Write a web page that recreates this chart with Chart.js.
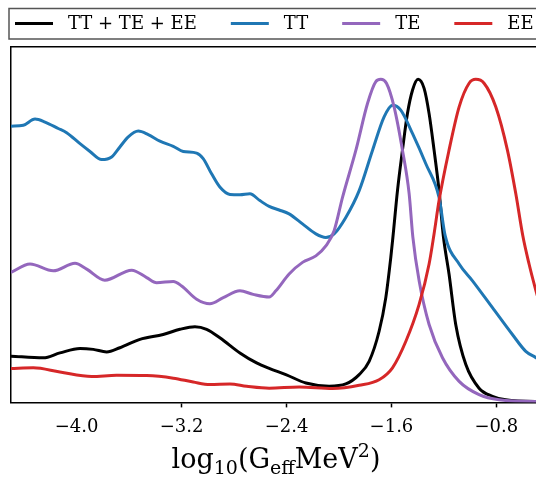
<!DOCTYPE html>
<html>
<head>
<meta charset="utf-8">
<script src="https://cdn.jsdelivr.net/npm/chart.js@4"></script>
<style>
  html, body { margin: 0; padding: 0; background: #fff; overflow: hidden; }
  #wrap { width: 536px; height: 477px; overflow: hidden; position: relative; }
  canvas { display: block; }
</style>
</head>
<body>
<div id="wrap"><canvas id="c" width="545" height="477"></canvas></div>
<script>
// ---- data (x = log10(Geff MeV^2), y = normalised posterior) ----
const seriesLabels = ['TT + TE + EE', 'TT', 'TE', 'EE'];
const seriesColors = ['#000000', '#1f77b4', '#9467bd', '#d62728'];
const tickValues = [-4.0, -3.2, -2.4, -1.6, -0.8];
const axisTitleParts = [['log', 0], ['10', 1], ['(G', 0], ['eff', 1], ['MeV', 0], ['2', 2], [')', 0]];

const allX = [-4.500, -4.254, -4.127, -3.974, -3.873, -3.771, -3.670, -3.517, -3.340, -3.212, -3.098, -3.009, -2.908, -2.755, -2.628, -2.532, -2.405, -2.252, -2.075, -1.948, -1.846, -1.770, -1.694, -1.643, -1.605, -1.590, -1.554, -1.516, -1.478, -1.439, -1.397, -1.351, -1.313, -1.275, -1.237, -1.205, -1.161, -1.110, -1.033, -0.932, -0.830, -0.729, -0.508, -0.46];
const allY = [0.143, 0.138, 0.153, 0.167, 0.164, 0.156, 0.169, 0.195, 0.210, 0.226, 0.234, 0.226, 0.200, 0.153, 0.122, 0.105, 0.086, 0.060, 0.050, 0.057, 0.086, 0.127, 0.220, 0.324, 0.448, 0.506, 0.655, 0.780, 0.893, 0.966, 0.999, 0.971, 0.893, 0.780, 0.655, 0.516, 0.397, 0.241, 0.117, 0.044, 0.019, 0.008, 0.003, 0.003];

const ttX = [-4.500, -4.406, -4.317, -4.241, -4.140, -4.076, -3.974, -3.898, -3.809, -3.733, -3.670, -3.606, -3.530, -3.454, -3.365, -3.263, -3.187, -3.085, -3.035, -2.971, -2.908, -2.831, -2.755, -2.679, -2.603, -2.532, -2.456, -2.380, -2.278, -2.176, -2.100, -2.037, -1.948, -1.846, -1.744, -1.656, -1.592, -1.529, -1.439, -1.338, -1.237, -1.190, -1.084, -0.982, -0.830, -0.678, -0.576, -0.505, -0.46];
const ttY = [0.854, 0.857, 0.876, 0.867, 0.847, 0.834, 0.800, 0.776, 0.751, 0.759, 0.790, 0.821, 0.839, 0.828, 0.808, 0.792, 0.776, 0.771, 0.754, 0.707, 0.666, 0.643, 0.642, 0.645, 0.624, 0.606, 0.595, 0.583, 0.552, 0.521, 0.510, 0.521, 0.572, 0.655, 0.780, 0.883, 0.919, 0.904, 0.831, 0.738, 0.634, 0.515, 0.428, 0.376, 0.293, 0.210, 0.158, 0.140, 0.130];

const teX = [-4.500, -4.355, -4.178, -4.012, -3.923, -3.785, -3.580, -3.466, -3.390, -3.263, -3.199, -3.085, -2.984, -2.882, -2.755, -2.654, -2.532, -2.481, -2.380, -2.278, -2.176, -2.100, -2.037, -1.973, -1.871, -1.782, -1.719, -1.681, -1.638, -1.580, -1.516, -1.465, -1.437, -1.389, -1.313, -1.211, -1.084, -0.932, -0.780, -0.505, -0.46];
const teY = [0.402, 0.428, 0.407, 0.430, 0.412, 0.378, 0.409, 0.386, 0.370, 0.374, 0.360, 0.319, 0.305, 0.324, 0.345, 0.334, 0.326, 0.345, 0.397, 0.433, 0.453, 0.484, 0.531, 0.634, 0.780, 0.925, 0.992, 0.999, 0.987, 0.914, 0.780, 0.645, 0.512, 0.376, 0.241, 0.138, 0.065, 0.024, 0.008, 0.003, 0.003];

const eeX = [-4.500, -4.330, -4.127, -3.885, -3.695, -3.466, -3.263, -3.111, -2.984, -2.831, -2.704, -2.532, -2.303, -2.049, -1.846, -1.694, -1.592, -1.490, -1.389, -1.313, -1.277, -1.237, -1.161, -1.084, -1.008, -0.957, -0.894, -0.805, -0.716, -0.652, -0.599, -0.551, -0.505, -0.46];
const eeY = [0.105, 0.107, 0.094, 0.080, 0.084, 0.083, 0.075, 0.063, 0.055, 0.057, 0.050, 0.044, 0.048, 0.043, 0.053, 0.070, 0.107, 0.189, 0.303, 0.428, 0.516, 0.624, 0.780, 0.914, 0.987, 0.999, 0.987, 0.914, 0.780, 0.645, 0.516, 0.428, 0.355, 0.290];

const xsList = [allX, ttX, teX, eeX];
const ysList = [allY, ttY, teY, eeY];

const SERIF = '"DejaVu Serif", "Liberation Serif", serif';

function pts(xs, ys) { return xs.map((x, i) => ({ x: x, y: ys[i] })); }

const datasets = seriesLabels.map((lab, i) => ({
  label: lab,
  data: pts(xsList[i], ysList[i]),
  borderColor: seriesColors[i],
  backgroundColor: seriesColors[i],
  borderWidth: 3,
  pointRadius: 0,
  cubicInterpolationMode: 'monotone',
  fill: false,
  order: 4 - i
}));

// legend drawn in a framed box across the top (matplotlib style)
const framedLegend = {
  id: 'framedLegend',
  afterDraw(chart) {
    const ctx = chart.ctx;
    ctx.save();
    ctx.fillStyle = '#fff';
    ctx.strokeStyle = '#555';
    ctx.lineWidth = 1.5;
    ctx.beginPath();
    ctx.rect(9, 8.5, 560, 30.5);
    ctx.fill();
    ctx.stroke();
    ctx.font = '18px ' + SERIF;
    ctx.textBaseline = 'middle';
    ctx.textAlign = 'left';
    const yMid = 23.5;
    let x = 15;
    chart.data.datasets.forEach(ds => {
      ctx.strokeStyle = ds.borderColor;
      ctx.lineWidth = 3;
      ctx.beginPath();
      ctx.moveTo(x, yMid);
      ctx.lineTo(x + 38, yMid);
      ctx.stroke();
      const tx = x + 53;
      ctx.fillStyle = '#000';
      ctx.fillText(ds.label, tx, yMid + 1);
      x = tx + ctx.measureText(ds.label).width + 34;
    });
    ctx.restore();
  }
};

// x-axis title with sub/superscripts
const richAxisTitle = {
  id: 'richAxisTitle',
  afterDraw(chart) {
    const ctx = chart.ctx;
    const base = 27, small = 19;
    ctx.save();
    ctx.fillStyle = '#000';
    ctx.textBaseline = 'alphabetic';
    ctx.textAlign = 'left';
    const widths = axisTitleParts.map(([t, k]) => {
      ctx.font = (k ? small : base) + 'px ' + SERIF;
      return ctx.measureText(t).width;
    });
    const total = widths.reduce((a, b) => a + b, 0);
    const ca = chart.chartArea;
    let x = (ca.left + ca.right) / 2 - total / 2;
    const baseY = 468;
    axisTitleParts.forEach(([t, k], i) => {
      ctx.font = (k ? small : base) + 'px ' + SERIF;
      const dy = k === 1 ? 6 : (k === 2 ? -11 : 0);
      ctx.fillText(t, x, baseY + dy);
      x += widths[i];
    });
    ctx.restore();
  }
};

new Chart(document.getElementById('c'), {
  type: 'line',
  data: { datasets: datasets },
  options: {
    responsive: false,
    animation: false,
    layout: { padding: { left: 11, top: 47, right: 4, bottom: 30 } },
    plugins: { legend: { display: false }, tooltip: { enabled: false } },
    scales: {
      x: {
        type: 'linear',
        min: -4.5,
        max: -0.46,
        afterBuildTicks: (axis) => { axis.ticks = tickValues.map(v => ({ value: v })); },
        ticks: {
          autoSkip: false,
          maxRotation: 0,
          padding: 9,
          color: '#000',
          font: { family: SERIF, size: 18 },
          callback: (v) => (v < 0 ? '\u2212' : '') + Math.abs(v).toFixed(1)
        },
        grid: {
          drawOnChartArea: false,
          drawTicks: true,
          tickLength: 5,
          tickWidth: 1.5,
          tickColor: (c) => (c.index === 0 ? 'rgba(0,0,0,0)' : '#000')
        },
        border: { display: true, color: '#000', width: 1.5 }
      },
      x2: {
        type: 'linear',
        position: 'top',
        display: true,
        ticks: { display: false },
        grid: { display: false, drawTicks: false },
        border: { display: true, color: '#000', width: 1.5 }
      },
      y: {
        type: 'linear',
        min: 0,
        max: 1.099,
        display: true,
        ticks: { display: false },
        grid: { display: false, drawTicks: false },
        border: { display: true, color: '#000', width: 1.5 }
      }
    }
  },
  plugins: [framedLegend, richAxisTitle]
});
</script>
</body>
</html>
